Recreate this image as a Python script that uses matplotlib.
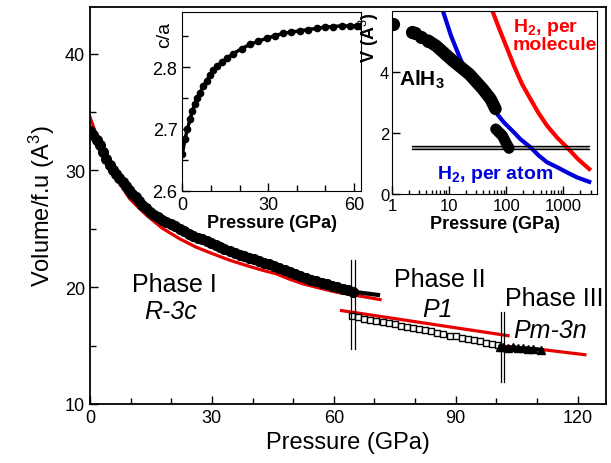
import numpy as np
import matplotlib.pyplot as plt
from matplotlib.ticker import MultipleLocator, LogLocator, NullFormatter

plt.rcParams['font.family'] = ['Liberation Sans', 'DejaVu Sans']
plt.rcParams['mathtext.fontset'] = 'custom'
plt.rcParams['mathtext.rm'] = 'Liberation Sans'
plt.rcParams['mathtext.it'] = 'Liberation Sans:italic'
plt.rcParams['mathtext.bf'] = 'Liberation Sans:bold'

# ---- main panel data (Pressure GPa, Volume per f.u.) ----
p_phase1 = [0, 0.8, 1.6, 2.4, 3.2, 4.0, 4.8, 5.6, 6.4, 7.2, 8.0, 8.8, 9.6, 10.4,
            11.2, 12.0, 12.9, 13.8, 14.8, 15.8, 16.8, 17.8, 18.8, 19.9, 21.0, 22.1,
            23.2, 24.3, 25.4, 26.5, 27.6, 28.7, 29.8, 30.9, 32.0, 33.1, 34.4, 35.6,
            36.8, 38.0, 39.2, 40.4, 41.6, 42.8, 44.0, 45.3, 46.6, 47.9, 49.2, 50.5,
            51.8, 53.1, 54.4, 55.7, 57.0, 58.3, 59.6, 60.9, 62.2, 63.5, 64.8]
v_phase1 = [33.4, 33.05, 32.6, 32.15, 31.6, 30.95, 30.45, 30.05, 29.7, 29.35, 29.0,
            28.65, 28.3, 28.0, 27.7, 27.4, 27.05, 26.75, 26.45, 26.2, 25.98, 25.75,
            25.55, 25.38, 25.2, 25.0, 24.8, 24.6, 24.42, 24.25, 24.1, 23.95, 23.8,
            23.62, 23.45, 23.28, 23.1, 22.95, 22.8, 22.65, 22.5, 22.38, 22.25, 22.1,
            21.95, 21.8, 21.65, 21.48, 21.3, 21.12, 20.95, 20.8, 20.65, 20.52, 20.38,
            20.25, 20.12, 19.98, 19.85, 19.74, 19.63]
p_tail1 = [64.8, 66.8, 68.9, 70.9]
v_tail1 = [19.63, 19.52, 19.43, 19.34]
p_fit1 = [0, 1.2, 2.5, 4.1, 5.7, 7.4, 9.8, 12, 14, 17.8, 22.1, 26, 30.3, 34.5,
          38.6, 42, 45.9, 49, 52.5, 56.6, 60.7, 64.8, 68, 71.4]
v_fit1 = [34.57, 33.4, 32.42, 31.0, 29.71, 28.85, 27.57, 26.8, 26.14, 25.05, 24.14,
          23.45, 22.85, 22.3, 21.85, 21.5, 21.14, 20.7, 20.28, 19.92, 19.57, 19.34,
          19.15, 18.94]

p_phase2 = [64.5, 66.0, 67.5, 69.0, 70.5, 72.0, 73.5, 75.0, 76.5, 78.0, 79.5, 81.0,
            82.5, 84.0, 85.5, 87.0, 88.5, 90.0, 91.5, 93.0, 94.5, 96.0, 97.5, 99.0,
            100.5]
v_phase2 = [17.5, 17.42, 17.3, 17.22, 17.1, 17.0, 16.92, 16.82, 16.71, 16.62, 16.5,
            16.42, 16.3, 16.22, 16.1, 16.0, 15.86, 15.78, 15.66, 15.56, 15.46, 15.36,
            15.25, 15.14, 15.02]
p_fit2 = [61.9, 102.9]
v_fit2 = [18.0, 15.85]

p_phase3 = [101.0, 101.7, 102.9, 104.2, 105.4, 106.6, 107.8, 109.1, 111.1]
v_phase3 = [14.9, 14.86, 14.8, 14.86, 14.77, 14.77, 14.73, 14.71, 14.63]
p_fit3 = [100, 111.5, 121.8]
v_fit3 = [15.0, 14.65, 14.22]

# phase boundaries (double vertical lines)
p_bound = [64.35, 65.15, 101.2, 102.0]
v_bound_lo = [14.7, 14.7, 11.86, 11.86]
v_bound_hi = [22.3, 22.3, 17.86, 17.86]

# ---- inset 1: c/a vs pressure ----
p_ca = [0, 0.94, 1.8, 2.7, 3.5, 4.4, 5.3, 6.2, 7.3, 8.5, 9.6, 10.8, 12.2, 13.7,
        15.7, 17.8, 20.7, 23.6, 26.5, 29.4, 32.3, 35.2, 38.1, 41.0, 44.0, 46.9,
        49.8, 52.7, 55.6, 58.5, 61.0, 62.2]
ca = [2.659, 2.684, 2.70, 2.716, 2.729, 2.741, 2.750, 2.759, 2.769, 2.778, 2.787,
      2.795, 2.802, 2.808, 2.815, 2.822, 2.830, 2.837, 2.842, 2.847, 2.851, 2.855,
      2.857, 2.859, 2.861, 2.863, 2.865, 2.866, 2.867, 2.867, 2.867, 2.867]

# ---- inset 2: volume per H vs pressure (log) ----
p_alh3_dots = [1.05, 2.2, 2.5, 3.26, 4.26]
v_alh3_dots = [5.57, 5.3, 5.28, 5.14, 5.03]
p_alh3_a = [4.26, 5.9, 11.6, 22.6, 39, 53.5, 65]
v_alh3_a = [5.03, 4.86, 4.37, 3.93, 3.44, 3.11, 2.79]
p_alh3_b = [65.6, 86, 98, 112]
v_alh3_b = [2.13, 1.91, 1.70, 1.50]

p_h2_atom = [7.8, 10.8, 16.2, 24, 36, 47, 65, 91, 137, 177, 267, 373, 520, 780,
             1160, 1720, 2850]
v_h2_atom = [6.0, 5.19, 4.37, 3.83, 3.33, 3.06, 2.69, 2.35, 2.02, 1.80, 1.53, 1.26,
             1.04, 0.88, 0.71, 0.55, 0.40]
p_h2_mol = [57.5, 66, 80, 105, 137, 190, 267, 370, 520, 780, 1160, 1800, 2850]
v_h2_mol = [6.0, 5.7, 5.3, 4.75, 4.2, 3.6, 3.11, 2.65, 2.24, 1.85, 1.53, 1.15, 0.82]

p_hline = [2.2, 2850]
v_hline_lo = [1.48, 1.48]
v_hline_hi = [1.57, 1.57]

red = '#e60000'

fig = plt.figure(figsize=(6.11, 4.64), dpi=100)
ax = fig.add_axes([0.1473, 0.1272, 0.8445, 0.8556])

ax.plot(p_fit1, v_fit1, color=red, lw=2.3, zorder=2)
ax.plot(p_phase1, v_phase1, 'o', color='k', ms=7, zorder=3)
ax.plot(p_tail1, v_tail1, color='k', lw=3, zorder=3)
ax.plot(p_fit2, v_fit2, color=red, lw=2.3, zorder=2)
ax.plot(p_phase2, v_phase2, 's', ms=4.5, mfc='white', mec='k', mew=1, zorder=3)
ax.plot(p_fit3, v_fit3, color=red, lw=2.3, zorder=2)
ax.plot(p_phase3, v_phase3, color='k', lw=3, zorder=3)
ax.plot(p_phase3, v_phase3, '^', color='k', ms=6, zorder=3)
for i in range(len(p_bound)):
    ax.plot([p_bound[i], p_bound[i]], [v_bound_lo[i], v_bound_hi[i]], color='k', lw=0.9, zorder=4)

ax.set_xlim(0, 127)
ax.set_ylim(10, 44)
ax.xaxis.set_major_locator(MultipleLocator(30))
ax.xaxis.set_minor_locator(MultipleLocator(10))
ax.yaxis.set_major_locator(MultipleLocator(10))
ax.yaxis.set_minor_locator(MultipleLocator(5))
ax.tick_params(which='both', direction='in', labelsize=13, width=1)
ax.tick_params(which='major', length=6)
ax.tick_params(which='minor', length=4)
for s in ax.spines.values():
    s.set_linewidth(1.3)
ax.set_xlabel('Pressure (GPa)', fontsize=17, labelpad=4)
ax.set_ylabel('Volume/f.u (A$^3$)', fontsize=17, labelpad=6)

ax.text(20.7, 20.3, 'Phase I', fontsize=18, ha='center', va='center')
ax.text(19.9, 18.0, 'R-3c', fontsize=18, style='italic', ha='center', va='center')
ax.text(86.1, 20.7, 'Phase II', fontsize=18, ha='center', va='center')
ax.text(85.6, 18.15, 'P1', fontsize=18, style='italic', ha='center', va='center')
ax.text(114.2, 19.1, 'Phase III', fontsize=18, ha='center', va='center')
ax.text(113.2, 16.35, 'Pm-3n', fontsize=18, style='italic', ha='center', va='center')

# inset 1
ax1 = fig.add_axes([0.2984, 0.5869, 0.2929, 0.3857])
ax1.plot(p_ca, ca, color='k', lw=2.5)
ax1.plot(p_ca, ca, 'o', color='k', ms=4.5)
ax1.set_xlim(0, 62.5)
ax1.set_ylim(2.6, 2.89)
ax1.xaxis.set_major_locator(MultipleLocator(30))
ax1.xaxis.set_minor_locator(MultipleLocator(10))
ax1.yaxis.set_major_locator(MultipleLocator(0.1))
ax1.yaxis.set_minor_locator(MultipleLocator(0.05))
ax1.tick_params(which='both', direction='in', labelsize=13, width=1)
ax1.tick_params(which='major', length=6)
ax1.tick_params(which='minor', length=4)
ax1.set_xlabel('Pressure (GPa)', fontsize=13, fontweight='bold', labelpad=1)
ax1.set_ylabel('c/a', fontsize=14)
ax1.yaxis.set_label_coords(-0.05, 0.875)

# inset 2
ax2 = fig.add_axes([0.6416, 0.5797, 0.3355, 0.3944])
ax2.plot(p_h2_mol, v_h2_mol, color='#ff0000', lw=3)
ax2.plot(p_h2_atom, v_h2_atom, color='#0000dd', lw=3)
ax2.fill_between(p_hline, v_hline_lo, v_hline_hi, color='#aaaaaa', lw=0)
ax2.plot(p_hline, v_hline_lo, color='k', lw=1)
ax2.plot(p_hline, v_hline_hi, color='k', lw=1)
ax2.plot(p_alh3_a, v_alh3_a, color='k', lw=9, solid_capstyle='round')
ax2.plot(p_alh3_b, v_alh3_b, color='k', lw=8, solid_capstyle='round')
ax2.plot(p_alh3_dots, v_alh3_dots, 'o', color='k', ms=8.5)
ax2.set_xscale('log')
ax2.set_xlim(1.0, 3900)
ax2.set_ylim(0, 6)
ax2.set_yticks([0, 2, 4])
ax2.xaxis.set_minor_locator(LogLocator(base=10, subs=np.arange(2, 10), numticks=10))
ax2.xaxis.set_minor_formatter(NullFormatter())
ax2.set_xticks([1, 10, 100, 1000])
ax2.set_xticklabels(['1', '10', '100', '1000'])
ax2.tick_params(which='both', direction='in', labelsize=12, width=1, pad=3)
ax2.tick_params(which='major', length=6)
ax2.tick_params(which='minor', length=3)
ax2.tick_params(axis='y', pad=2)
ax2.set_xlabel('Pressure (GPa)', fontsize=13, fontweight='bold', labelpad=1)
ax2.set_ylabel('V (A$^3$)', fontsize=13, fontweight='bold')
ax2.yaxis.set_label_coords(-0.055, 0.86)
ax2.text(3.4, 3.77, r'$\mathbf{AlH_3}$', fontsize=15, ha='center', va='center')
ax2.text(0.59, 0.975, r'$\mathbf{H_2}$, per' + '\nmolecule', transform=ax2.transAxes,
         color='#ff0000', fontsize=14, fontweight='bold', ha='left', va='top',
         linespacing=0.95)
ax2.text(0.22, 0.09, r'$\mathbf{H_2}$, per atom', transform=ax2.transAxes,
         color='#0000dd', fontsize=14, fontweight='bold', ha='left', va='baseline')

fig.savefig('out.png', dpi=100)
